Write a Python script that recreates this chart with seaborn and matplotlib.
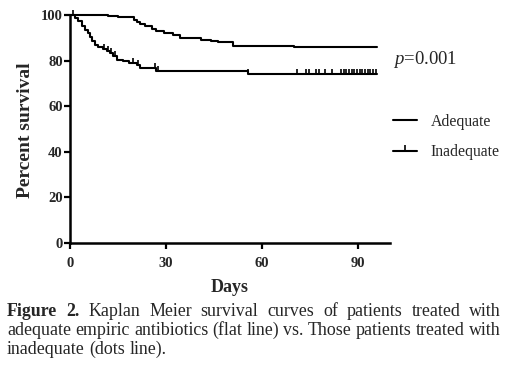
import numpy as np
import pandas as pd
import matplotlib
matplotlib.use("Agg")
import matplotlib.pyplot as plt
import seaborn as sns
from matplotlib.lines import Line2D
from matplotlib.markers import TICKUP

# ---------------- data ----------------
adequate_days = [0, 12, 15, 20, 21, 22, 23.4, 25.5, 27, 29.5, 32.3, 34.4, 41, 44, 46.3, 51, 70, 96]
adequate_surv = [100, 99.5, 99.0, 97.8, 97.0, 96.0, 95.0, 94.0, 92.9, 92.1, 91.4, 89.9, 89.2, 88.7, 88.0, 86.4, 85.8, 85.8]

inadequate_days = [0, 1.6, 2.6, 3.6, 4.7, 5.5, 6.3, 6.8, 7.8, 8.8, 10.4, 11.5, 12.5, 13.5, 14.6,
                   16.7, 18.5, 20.8, 22.0, 27.0, 55.7, 96]
inadequate_surv = [100, 98.7, 97.2, 95.0, 93.6, 92.1, 90.2, 88.5, 87.0, 85.8, 85.2, 84.3, 83.3, 81.9, 80.4,
                   79.7, 79.0, 78.0, 76.6, 75.3, 74.2, 74.2]

censor_days = [1, 10.7, 11.8, 12.8, 14.1, 19.8, 21.4, 26.6, 27.4, 55.7,
               70.8, 73.7, 74.7, 76.9, 77.8, 79.8, 81.8, 84.7, 85.5, 86.3, 87.2, 88.0,
               88.8, 89.7, 90.5, 91.3, 92.2, 93.0, 93.8, 94.7, 95.5]
censor_surv = [100, 85.2, 84.3, 83.3, 81.9, 79.0, 78.0, 76.6, 75.3, 74.2,
               74.2, 74.2, 74.2, 74.2, 74.2, 74.2, 74.2, 74.2, 74.2, 74.2, 74.2, 74.2,
               74.2, 74.2, 74.2, 74.2, 74.2, 74.2, 74.2, 74.2, 74.2]

x_ticks = [0, 30, 60, 90]
y_ticks = [0, 20, 40, 60, 80, 100]
group_labels = ["Adequate", "Inadequate"]
p_text = "=0.001"
x_label = "Days"
y_label = "Percent survival"
caption_lines = [
    "Figure 2. Kaplan Meier survival curves of patients treated with",
    "adequate empiric antibiotics (flat line) vs. Those patients treated with",
    "inadequate (dots line).",
]
caption_bold_words = 2

# ---------------- style ----------------
sns.set_style("ticks")
plt.rcParams["font.family"] = ["Liberation Serif", "DejaVu Serif"]
plt.rcParams["mathtext.fontset"] = "custom"
plt.rcParams["mathtext.it"] = "Liberation Serif:italic"
plt.rcParams["mathtext.rm"] = "Liberation Serif"

W, H = 507, 365
fig = plt.figure(figsize=(W / 100, H / 100), dpi=100)
fig.patch.set_facecolor("white")
ax = fig.add_axes([70 / W, 1 - 243 / H, 320 / W, 228 / H])

df_a = pd.DataFrame({"day": adequate_days, "surv": adequate_surv})
df_i = pd.DataFrame({"day": inadequate_days, "surv": inadequate_surv})
df_c = pd.DataFrame({"day": censor_days, "surv": censor_surv})

lw = 1.5
sns.lineplot(data=df_a, x="day", y="surv", drawstyle="steps-post", color="black",
             linewidth=lw, estimator=None, ax=ax, clip_on=False)
sns.lineplot(data=df_i, x="day", y="surv", drawstyle="steps-post", color="black",
             linewidth=lw, estimator=None, ax=ax, clip_on=False)
sns.scatterplot(data=df_c, x="day", y="surv", marker=TICKUP, s=14, color="black",
                linewidth=1.2, ax=ax, clip_on=False, zorder=3)

ax.set_xlim(0, 100)
ax.set_ylim(0, 100)
ax.set_xticks(x_ticks)
ax.set_yticks(y_ticks)
ax.set_xticklabels([str(v) for v in x_ticks], fontweight="bold", fontsize=10.5)
ax.set_yticklabels([str(v) for v in y_ticks], fontweight="bold", fontsize=10.5)
ax.tick_params(axis="both", direction="out", length=4.3, width=1.6, color="black")
ax.tick_params(axis="x", pad=6)
ax.tick_params(axis="y", pad=1)
for side in ["left", "bottom"]:
    ax.spines[side].set_linewidth(1.8)
    ax.spines[side].set_color("black")
sns.despine(ax=ax)

ax.set_xlabel(x_label, fontweight="bold", fontsize=13)
ax.xaxis.set_label_coords(160 / 320, (243 - 288) / 228)
ax.xaxis.label.set_verticalalignment("center")
ax.set_ylabel(y_label, fontweight="bold", fontsize=14)
ax.yaxis.set_label_coords((26 - 70) / 320, (243 - 130) / 228)
ax.yaxis.label.set_verticalalignment("center")

# p value
fig.text(393 / W, 1 - 59 / H, "$p$" + p_text, fontsize=13.5, va="center", ha="left")

# legend
handles = [
    Line2D([], [], color="black", linewidth=lw),
    Line2D([], [], color="black", linewidth=lw, marker=TICKUP, markersize=4,
           markeredgewidth=1.2, markevery=[1]),
]
handles[1].set_data([0, 0.5, 1], [0, 0, 0])
leg = fig.legend(handles, group_labels, loc="center left",
                 bbox_to_anchor=(393 / W, 1 - 137 / H), frameon=False,
                 fontsize=11.3, handlelength=1.55, handletextpad=0.85,
                 labelspacing=0.92, borderpad=0, borderaxespad=0)

# caption, justified; font size chosen so the 2nd line fits naturally
renderer = fig.canvas.get_renderer()
left_px, right_px = 7, 501
baselines = [316, 335, 353.5]
probe = fig.text(0, 0, caption_lines[1], fontsize=10)
natural = probe.get_window_extent(renderer).width
probe.remove()
cap_fs = 10 * (right_px - left_px) / natural
probe = fig.text(0, 0, "a a", fontsize=cap_fs)
w_aa = probe.get_window_extent(renderer).width
probe.set_text("aa")
space_w = w_aa - probe.get_window_extent(renderer).width
probe.remove()
word_idx = 0
for li, line in enumerate(caption_lines):
    words = line.split(" ")
    texts = []
    for w in words:
        weight = "bold" if word_idx < caption_bold_words else "normal"
        word_idx += 1
        t = fig.text(0, 1 - baselines[li] / H, w, fontsize=cap_fs, fontweight=weight,
                     va="baseline", ha="left")
        texts.append(t)
    widths = [t.get_window_extent(renderer).width for t in texts]
    if li < len(caption_lines) - 1:
        gap = (right_px - left_px - sum(widths)) / (len(words) - 1)
    else:
        gap = space_w
    x = left_px
    for t, wd in zip(texts, widths):
        t.set_x(x / W)
        x += wd + gap

fig.savefig("out.png", dpi=100, facecolor="white")
